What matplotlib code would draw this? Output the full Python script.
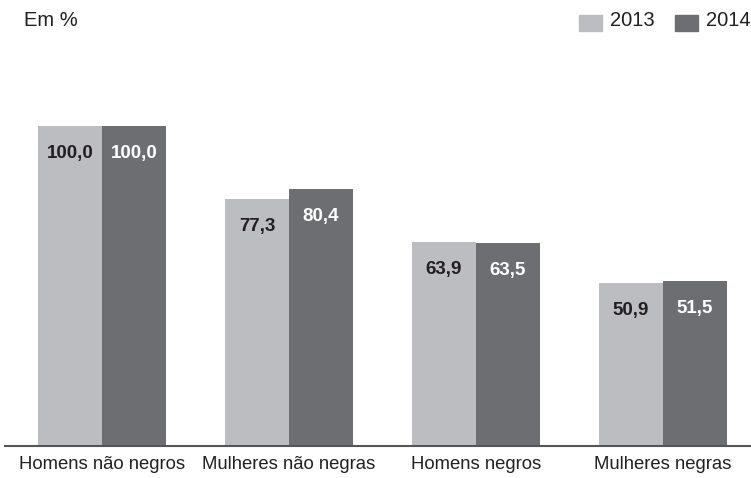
import matplotlib
matplotlib.use("Agg")
import matplotlib.pyplot as plt
from matplotlib.patches import Rectangle

categories = ["Homens não negros", "Mulheres não negras", "Homens negros", "Mulheres negras"]
years = ["2013", "2014"]
values_2013 = [100.0, 77.3, 63.9, 50.9]
values_2014 = [100.0, 80.4, 63.5, 51.5]

c13 = "#bcbdc1"
c14 = "#6d6e72"
txt = "#231f20"

plt.rcParams['font.family'] = ['Liberation Sans', 'DejaVu Sans']

W, H = 751, 478
fig = plt.figure(figsize=(W / 100, H / 100), dpi=100)
ax = fig.add_axes([5 / W, (H - 446) / H, 746 / W, 320 / H])

unit = 187.0
bw = 64 / unit
x = list(range(len(categories)))
xl = (5 - 102) / unit
xr = (751 - 102) / unit
ax.set_xlim(xl, xr)
ax.set_ylim(0, 100)

b1 = ax.bar([i - bw / 2 for i in x], values_2013, width=bw, color=c13, clip_on=False)
b2 = ax.bar([i + bw / 2 for i in x], values_2014, width=bw, color=c14, clip_on=False)

def fmt(v):
    return f"{v:.1f}".replace(".", ",")

for bars, vals, col in ((b1, values_2013, txt), (b2, values_2014, "white")):
    for r, v in zip(bars, vals):
        ax.annotate(fmt(v), (r.get_x() + r.get_width() / 2, v), xytext=(0, -20),
                    textcoords="offset points", ha="center", va="center",
                    fontsize=13.5, fontweight="bold", color=col)

for s in ["top", "right", "left"]:
    ax.spines[s].set_visible(False)
ax.spines["bottom"].set_color("#555555")
ax.spines["bottom"].set_linewidth(1.5)
ax.set_yticks([])
ax.set_xticks(x)
ax.set_xticklabels(categories, fontsize=13.3, color=txt)
ax.tick_params(axis="x", length=0, pad=7)

fig.text(24 / W, 1 - 21 / H, "Em %", fontsize=14.5, color=txt, ha="left", va="center")

# legend
for xs, col, lab, xt in ((579, c13, years[0], 610), (675, c14, years[1], 706)):
    fig.patches.append(Rectangle((xs / W, 1 - 31 / H), 23 / W, 16 / H,
                                 transform=fig.transFigure, color=col))
    fig.text(xt / W, 1 - 21 / H, lab, fontsize=14.5, color=txt, ha="left", va="center")

fig.savefig("out.png", dpi=100)
